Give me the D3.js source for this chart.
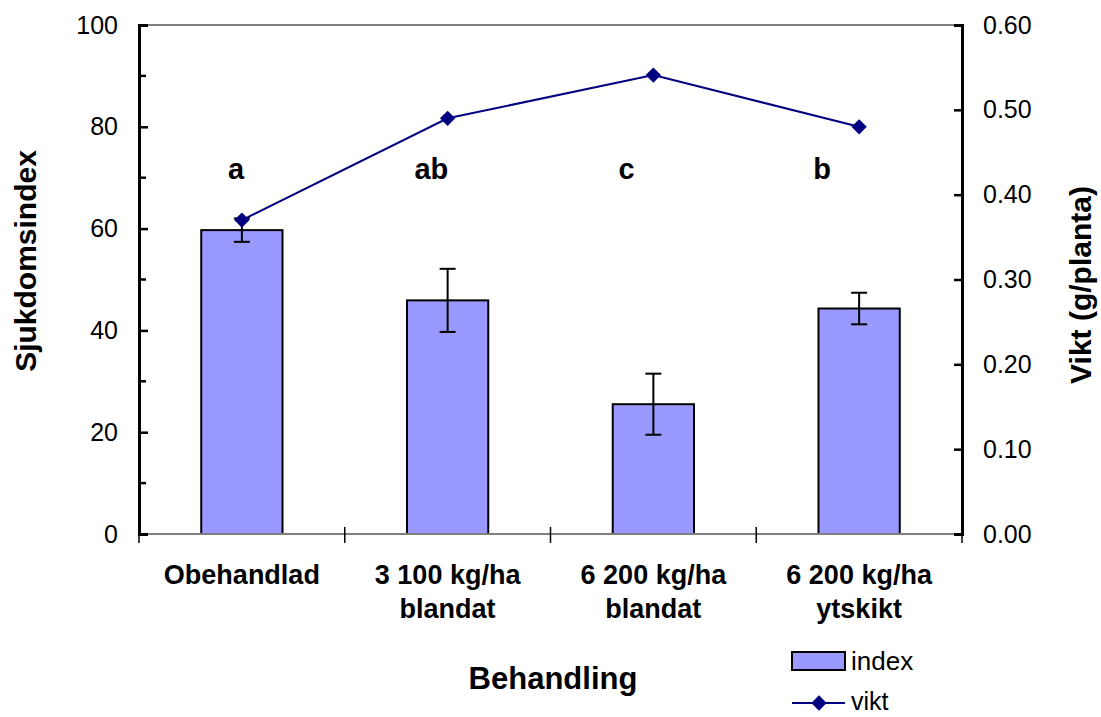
<!DOCTYPE html>
<html>
<head>
<meta charset="utf-8">
<script src="https://cdn.jsdelivr.net/npm/d3@7"></script>
<style>
 body { margin: 0; background: #fff; }
 text { font-family: "Liberation Sans", Arial, sans-serif; }
</style>
</head>
<body>
<div id="container"></div>
<script>
// data
const categories = [["Obehandlad"], ["3 100 kg/ha", "blandat"], ["6 200 kg/ha", "blandat"], ["6 200 kg/ha", "ytskikt"]]
const indexValues = [59.7, 45.9, 25.5, 44.3]
const indexErrors = [2.3, 6.2, 6.0, 3.1]
const viktValues = [0.370, 0.490, 0.541, 0.480]
const letters = ["a", "ab", "c", "b"]
const leftTicks = [0, 20, 40, 60, 80, 100]
const rightTicks = [0, 0.1, 0.2, 0.3, 0.4, 0.5, 0.6]

// constants
const width = 1101,
 height = 717,
 margin = { top: 25, bottom: 183, left: 139, right: 139 }

const svg = d3.select("#container")
 .append("svg")
 .attr("width", width)
 .attr("height", height)

const xScale = d3.scaleBand()
 .domain(d3.range(categories.length))
 .range([margin.left, width - margin.right])

const yScale = d3.scaleLinear()
 .domain([0, 100])
 .range([height - margin.bottom, margin.top])

const y2Scale = d3.scaleLinear()
 .domain([0, 0.6])
 .range([height - margin.bottom, margin.top])

// the letters sit a bit narrower than the bars
const letterScale = d3.scaleLinear()
 .domain([0, letters.length - 1])
 .range([236, 822])

const x0 = margin.left, x1 = width - margin.right
const yBottom = yScale(0), yTop = yScale(100)

// top frame line
svg.append("line")
 .attr("x1", x0).attr("x2", x1)
 .attr("y1", yTop).attr("y2", yTop)
 .attr("stroke", "#808080").attr("stroke-width", 2)

// bars
const barW = xScale.bandwidth() * 0.395
svg.selectAll(".bar")
 .data(indexValues)
 .join("rect")
 .attr("class", "bar")
 .attr("x", (d, i) => xScale(i) + xScale.bandwidth() / 2 - barW / 2)
 .attr("y", d => yScale(d))
 .attr("width", barW)
 .attr("height", d => yBottom - yScale(d))
 .attr("fill", "#9999ff")
 .attr("stroke", "#000")
 .attr("stroke-width", 2)

// error bars
const errG = svg.append("g").attr("stroke", "#000").attr("stroke-width", 2)
indexValues.forEach((v, i) => {
 const cx = xScale(i) + xScale.bandwidth() / 2
 errG.append("line")
  .attr("x1", cx).attr("x2", cx)
  .attr("y1", yScale(v - indexErrors[i])).attr("y2", yScale(v + indexErrors[i]))
 ;[v - indexErrors[i], v + indexErrors[i]].forEach(e => {
  errG.append("line")
   .attr("x1", cx - 8).attr("x2", cx + 8)
   .attr("y1", yScale(e)).attr("y2", yScale(e))
 })
})

// x axis
svg.append("line")
 .attr("x1", x0).attr("x2", x1)
 .attr("y1", yBottom).attr("y2", yBottom)
 .attr("stroke", "#808080").attr("stroke-width", 2)

const bounds = d3.range(categories.length + 1).map(i => i < categories.length ? xScale(i) : x1)
svg.selectAll(".xtick")
 .data(bounds)
 .join("line")
 .attr("class", "xtick")
 .attr("x1", d => d).attr("x2", d => d)
 .attr("y1", (d, i) => (i === 0 || i === bounds.length - 1) ? yBottom : yBottom - 7)
 .attr("y2", yBottom + 9)
 .attr("stroke", "#000").attr("stroke-width", 1.5)

// x labels
categories.forEach((lines, i) => {
 const t = svg.append("text")
  .attr("x", xScale(i) + xScale.bandwidth() / 2)
  .attr("y", 584)
  .attr("text-anchor", "middle")
  .attr("font-size", 27)
  .attr("font-weight", "bold")
 lines.forEach((l, j) => {
  t.append("tspan")
   .attr("x", xScale(i) + xScale.bandwidth() / 2)
   .attr("dy", j === 0 ? 0 : 34)
   .text(l)
 })
})

// left axis
const yAxis = d3.axisLeft(yScale)
 .tickValues(leftTicks)
 .tickSize(-9)
 .tickPadding(21)
const yAxisGroup = svg.append("g")
 .attr("transform", `translate(${x0}, 0)`)
 .call(yAxis)
yAxisGroup.select(".domain").attr("stroke-width", 3)
yAxisGroup.selectAll(".tick line").attr("stroke-width", 2.5)
yAxisGroup.selectAll(".tick text")
 .attr("font-size", 25).attr("font-family", "Liberation Sans, Arial, sans-serif")
 .attr("fill", "#000")
// minor ticks
yAxisGroup.selectAll(".minor")
 .data([10, 30, 50, 70, 90])
 .join("line")
 .attr("x1", 0).attr("x2", 7)
 .attr("y1", d => yScale(d)).attr("y2", d => yScale(d))
 .attr("stroke", "#000").attr("stroke-width", 2.5)

// right axis
const y2Axis = d3.axisRight(y2Scale)
 .tickValues(rightTicks)
 .tickSize(-8)
 .tickPadding(21)
 .tickFormat(d3.format(".2f"))
const y2AxisGroup = svg.append("g")
 .attr("transform", `translate(${x1}, 0)`)
 .call(y2Axis)
y2AxisGroup.select(".domain").attr("stroke-width", 3)
y2AxisGroup.selectAll(".tick line").attr("stroke-width", 2.5)
y2AxisGroup.selectAll(".tick text")
 .attr("font-size", 25).attr("font-family", "Liberation Sans, Arial, sans-serif")
 .attr("fill", "#000")

// significance letters
svg.selectAll(".letter")
 .data(letters)
 .join("text")
 .attr("class", "letter")
 .attr("x", (d, i) => letterScale(i))
 .attr("y", 179)
 .attr("text-anchor", "middle")
 .attr("font-size", 29)
 .attr("font-weight", "bold")
 .text(d => d)

// vikt line
const lineGen = d3.line()
 .x((d, i) => xScale(i) + xScale.bandwidth() / 2)
 .y(d => y2Scale(d))
svg.append("path")
 .datum(viktValues)
 .attr("d", lineGen)
 .attr("fill", "none")
 .attr("stroke", "#000080")
 .attr("stroke-width", 2)

const diamond = d3.symbol().type(d3.symbolDiamond2).size(150)
svg.selectAll(".pt")
 .data(viktValues)
 .join("path")
 .attr("class", "pt")
 .attr("d", diamond)
 .attr("transform", (d, i) => `translate(${xScale(i) + xScale.bandwidth() / 2}, ${y2Scale(d)})`)
 .attr("fill", "#000080")

// axis titles
svg.append("text")
 .attr("transform", `translate(36, 261) rotate(-90)`)
 .attr("text-anchor", "middle")
 .attr("font-size", 30).attr("font-weight", "bold")
 .text("Sjukdomsindex")

svg.append("text")
 .attr("transform", `translate(1091, 285) rotate(-90)`)
 .attr("text-anchor", "middle")
 .attr("font-size", 30).attr("font-weight", "bold")
 .text("Vikt (g/planta)")

svg.append("text")
 .attr("x", 553).attr("y", 689)
 .attr("text-anchor", "middle")
 .attr("font-size", 31).attr("font-weight", "bold")
 .text("Behandling")

// legend
const lg = svg.append("g").attr("transform", "translate(792, 0)")
lg.append("rect")
 .attr("x", 0).attr("y", 652)
 .attr("width", 53).attr("height", 18)
 .attr("fill", "#9999ff").attr("stroke", "#000").attr("stroke-width", 2)
lg.append("text")
 .attr("x", 59).attr("y", 670)
 .attr("font-size", 26)
 .text("index")
lg.append("line")
 .attr("x1", 0).attr("x2", 53)
 .attr("y1", 703).attr("y2", 703)
 .attr("stroke", "#000080").attr("stroke-width", 2)
lg.append("path")
 .attr("d", diamond)
 .attr("transform", "translate(27, 703)")
 .attr("fill", "#000080")
lg.append("text")
 .attr("x", 59).attr("y", 710)
 .attr("font-size", 25)
 .text("vikt")
</script>
</body>
</html>
